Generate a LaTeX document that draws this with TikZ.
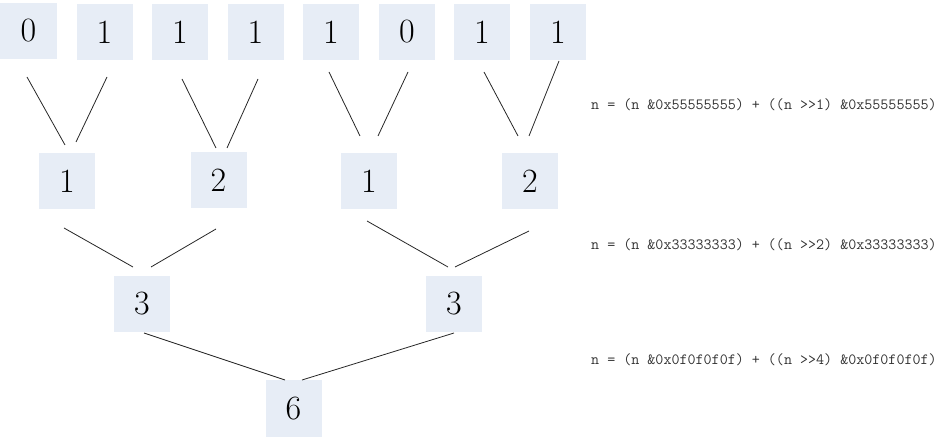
\documentclass[tikz,border=0pt]{standalone}
\usepackage{fontspec}
\definecolor{boxfill}{RGB}{231,237,246}
\definecolor{codegray}{RGB}{50,50,50}
\begin{document}
\begin{tikzpicture}[x=1bp,y=-1bp,
  numbox/.style={fill=boxfill, minimum width=56bp, minimum height=56bp, inner sep=0pt,
    font=\fontsize{34bp}{34bp}\selectfont},
  link/.style={line width=0.8bp, draw=black!85},
  codetext/.style={anchor=west, inner sep=0pt, text=codegray,
    font=\ttfamily\fontsize{15.6bp}{16bp}\selectfont}]
\useasboundingbox (0,0) rectangle (936,437);
% top row
\node[numbox] (t1) at (28.5,31) {0};
\node[numbox] (t2) at (104.5,32) {1};
\node[numbox] (t3) at (180,32) {1};
\node[numbox] (t4) at (255.5,32) {1};
\node[numbox] (t5) at (331,32) {1};
\node[numbox] (t6) at (407,32) {0};
\node[numbox] (t7) at (482,32) {1};
\node[numbox] (t8) at (558,32) {1};
% second row
\node[numbox] (a1) at (67,181.5) {1};
\node[numbox] (a2) at (218.5,180.5) {2};
\node[numbox] (a3) at (369,181.5) {1};
\node[numbox] (a4) at (530,181) {2};
% third row
\node[numbox] (b1) at (142,304) {3};
\node[numbox] (b2) at (454,304) {3};
% bottom
\node[numbox] (c1) at (293.5,408.5) {6};
% connector end points
\coordinate (p1s) at (27,77);   \coordinate (p1e) at (65,145);
\coordinate (p2s) at (107,77);  \coordinate (p2e) at (76,142);
\coordinate (p3s) at (182,79);  \coordinate (p3e) at (216,148);
\coordinate (p4s) at (258,79);  \coordinate (p4e) at (227,148);
\coordinate (p5s) at (329,72);  \coordinate (p5e) at (360,136);
\coordinate (p6s) at (408,72);  \coordinate (p6e) at (378,136);
\coordinate (p7s) at (484,72);  \coordinate (p7e) at (518,136);
\coordinate (p8s) at (559,61);  \coordinate (p8e) at (529,136);
\coordinate (q1s) at (64,228);  \coordinate (q1e) at (133,267);
\coordinate (q2s) at (216,229); \coordinate (q2e) at (151,267);
\coordinate (q3s) at (367,221); \coordinate (q3e) at (448,267);
\coordinate (q4s) at (529,231); \coordinate (q4e) at (455,267);
\coordinate (r1s) at (144,333); \coordinate (r1e) at (285,380);
\coordinate (r2s) at (454,333); \coordinate (r2e) at (302,380);
\foreach \a in {p1,p2,p3,p4,p5,p6,p7,p8,q1,q2,q3,q4,r1,r2}
  \draw[link] (\a s) -- (\a e);
% formulas
\node[codetext] (f1) at (591,105) {n = (n \&0x55555555) + ((n >>1) \&0x55555555)};
\node[codetext] (f2) at (591,245) {n = (n \&0x33333333) + ((n >>2) \&0x33333333)};
\node[codetext] (f3) at (591,360) {n = (n \&0x0f0f0f0f) + ((n >>4) \&0x0f0f0f0f)};
\end{tikzpicture}
\end{document}
